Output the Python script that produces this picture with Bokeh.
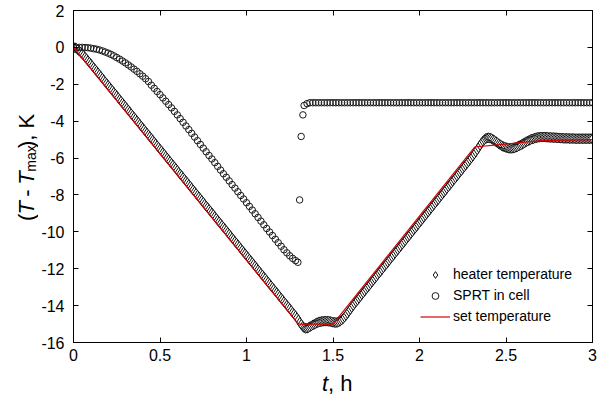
import math
import numpy as np
from bokeh.plotting import figure
from bokeh.layouts import column, row
from bokeh.models import (Range1d, LinearAxis, FixedTicker, NumeralTickFormatter,
                          Legend, LegendItem, CustomLabelingPolicy)
from bokeh.core.properties import value
from bokeh.embed import file_html
from bokeh.resources import INLINE

FONT = "Liberation Sans"

# ---------------- data ----------------
x_ticks = [0, 0.5, 1, 1.5, 2, 2.5, 3]
y_ticks = [-16, -14, -12, -10, -8, -6, -4, -2, 0, 2]

# heater temperature, one reading every 30 s, t = 0 .. 3 h
heater_temp = [
    0.00, -0.02, -0.05, -0.12, -0.20, -0.27, -0.35, -0.44, -0.53, -0.62,
    -0.72, -0.81, -0.90, -1.00, -1.10, -1.19, -1.29, -1.38, -1.48, -1.57,
    -1.67, -1.77, -1.87, -1.96, -2.06, -2.15, -2.25, -2.34, -2.44, -2.53,
    -2.63, -2.73, -2.83, -2.92, -3.02, -3.11, -3.21, -3.30, -3.40, -3.50,
    -3.60, -3.69, -3.79, -3.88, -3.98, -4.07, -4.17, -4.27, -4.37, -4.46,
    -4.56, -4.65, -4.75, -4.84, -4.94, -5.03, -5.13, -5.23, -5.33, -5.42,
    -5.52, -5.61, -5.71, -5.80, -5.90, -6.00, -6.10, -6.19, -6.29, -6.38,
    -6.48, -6.57, -6.67, -6.77, -6.87, -6.96, -7.06, -7.15, -7.25, -7.34,
    -7.44, -7.53, -7.63, -7.73, -7.83, -7.92, -8.02, -8.11, -8.21, -8.30,
    -8.40, -8.50, -8.60, -8.69, -8.79, -8.88, -8.98, -9.07, -9.17, -9.27,
    -9.37, -9.46, -9.56, -9.65, -9.75, -9.84, -9.94, -10.03, -10.13, -10.23,
    -10.33, -10.42, -10.52, -10.61, -10.71, -10.80, -10.90, -11.00, -11.10, -11.19,
    -11.29, -11.38, -11.48, -11.57, -11.67, -11.76, -11.86, -11.96, -12.06, -12.15,
    -12.25, -12.34, -12.44, -12.53, -12.63, -12.73, -12.83, -12.92, -13.02, -13.11,
    -13.21, -13.30, -13.40, -13.50, -13.60, -13.69, -13.79, -13.88, -13.98, -14.07,
    -14.17, -14.27, -14.37, -14.46, -14.56, -14.66, -14.78, -14.91, -15.02, -15.13,
    -15.20, -15.23, -15.22, -15.19, -15.15, -15.10, -15.05, -15.01, -14.97, -14.93,
    -14.90, -14.88, -14.86, -14.85, -14.84, -14.84, -14.84, -14.85, -14.86, -14.88,
    -14.90, -14.91, -14.92, -14.91, -14.88, -14.84, -14.78, -14.71, -14.62, -14.53,
    -14.42, -14.31, -14.20, -14.10, -13.99, -13.89, -13.79, -13.70, -13.60, -13.50,
    -13.40, -13.31, -13.21, -13.11, -13.01, -12.92, -12.82, -12.72, -12.62, -12.53,
    -12.43, -12.33, -12.23, -12.14, -12.04, -11.94, -11.84, -11.75, -11.65, -11.55,
    -11.45, -11.36, -11.26, -11.16, -11.06, -10.97, -10.87, -10.77, -10.67, -10.58,
    -10.48, -10.38, -10.28, -10.19, -10.09, -9.99, -9.89, -9.80, -9.70, -9.60,
    -9.50, -9.41, -9.31, -9.21, -9.11, -9.02, -8.92, -8.82, -8.72, -8.63,
    -8.53, -8.43, -8.33, -8.24, -8.14, -8.04, -7.94, -7.85, -7.75, -7.65,
    -7.55, -7.46, -7.36, -7.26, -7.16, -7.07, -6.97, -6.87, -6.77, -6.68,
    -6.58, -6.48, -6.38, -6.29, -6.19, -6.09, -5.99, -5.89, -5.78, -5.67,
    -5.55, -5.43, -5.30, -5.18, -5.08, -5.00, -4.94, -4.91, -4.90, -4.92,
    -4.95, -5.00, -5.05, -5.11, -5.17, -5.23, -5.28, -5.33, -5.37, -5.40,
    -5.43, -5.45, -5.47, -5.47, -5.47, -5.46, -5.44, -5.41, -5.38, -5.34,
    -5.30, -5.26, -5.21, -5.17, -5.12, -5.08, -5.04, -5.00, -4.97, -4.95,
    -4.92, -4.90, -4.88, -4.87, -4.86, -4.86, -4.86, -4.86, -4.87, -4.87,
    -4.88, -4.88, -4.89, -4.89, -4.90, -4.90, -4.91, -4.91, -4.92, -4.92,
    -4.93, -4.93, -4.93, -4.93, -4.94, -4.94, -4.94, -4.94, -4.95, -4.95,
    -4.95, -4.95, -4.95, -4.95, -4.95, -4.95, -4.95, -4.95, -4.95, -4.95,
    -4.95,
]
heater_t = np.arange(len(heater_temp)) / 120.0

# SPRT in cell: cooling part (one reading per minute, t = 0 .. 1.283 h)
sprt_cool = [
    0.00, 0.00, 0.00, 0.00, -0.01, -0.02, -0.04, -0.07, -0.10, -0.14,
    -0.19, -0.25, -0.31, -0.38, -0.46, -0.55, -0.64, -0.74, -0.84, -0.95,
    -1.06, -1.18, -1.30, -1.43, -1.56, -1.70, -1.85, -2.05, -2.22, -2.39,
    -2.56, -2.74, -2.92, -3.10, -3.28, -3.47, -3.66, -3.86, -4.06, -4.26,
    -4.46, -4.66, -4.86, -5.06, -5.26, -5.46, -5.66, -5.86, -6.05, -6.25,
    -6.45, -6.65, -6.85, -7.04, -7.24, -7.44, -7.63, -7.83, -8.03, -8.22,
    -8.42, -8.62, -8.82, -9.02, -9.22, -9.42, -9.62, -9.82, -10.01, -10.20,
    -10.40, -10.59, -10.78, -10.97, -11.14, -11.30, -11.44, -11.56,
]
sprt_cool_t = np.arange(len(sprt_cool)) / 60.0
# SPRT jump (freezing)
sprt_jump_t = [1.297, 1.307, 1.316, 1.326, 1.333]
sprt_jump = [-11.65, -8.27, -4.83, -3.66, -3.15]
# SPRT plateau (one reading per minute, t = 1.35 .. 3 h)
sprt_plateau = [
    -3.05, -3.00, -3.00, -3.00, -3.00, -3.00, -3.00, -3.00, -3.00, -3.00,
    -3.00, -3.00, -3.00, -3.00, -3.00, -3.00, -3.00, -3.00, -3.00, -3.00,
    -3.00, -3.00, -3.00, -3.00, -3.00, -3.00, -3.00, -3.00, -3.00, -3.00,
    -3.00, -3.00, -3.00, -3.00, -3.00, -3.00, -3.00, -3.00, -3.00, -3.00,
    -3.00, -3.00, -3.00, -3.00, -3.00, -3.00, -3.00, -3.00, -3.00, -3.00,
    -3.00, -3.00, -3.00, -3.00, -3.00, -3.00, -3.00, -3.00, -3.00, -3.00,
    -3.00, -3.00, -3.00, -3.00, -3.00, -3.00, -3.00, -3.00, -3.00, -3.00,
    -3.00, -3.00, -3.00, -3.00, -3.00, -3.00, -3.00, -3.00, -3.00, -3.00,
    -3.00, -3.00, -3.00, -3.00, -3.00, -3.00, -3.00, -3.00, -3.00, -3.00,
    -3.00, -3.00, -3.00, -3.00, -3.00, -3.00, -3.00, -3.00, -3.00, -3.00,
]
sprt_plateau_t = (81 + np.arange(len(sprt_plateau))) / 60.0

sprt_t = list(sprt_cool_t) + sprt_jump_t + list(sprt_plateau_t)
sprt_temp = sprt_cool + sprt_jump + sprt_plateau

# set temperature program
set_t = [0.0, 1.3, 1.5, 2.32, 2.7, 3.0]
set_temp = [0.0, -15.0, -15.0, -5.4, -5.05, -5.0]

# ---------------- layout geometry (page pixels) ----------------
W, H = 597, 399
LEFT_W = 38            # strip holding the y-axis title
BOTTOM_H = 30          # strip holding the x-axis title
FR_L, FR_T, FR_R, FR_B = 71, 10, 594, 342   # frame edges on the page
MAIN_W, MAIN_H = W - LEFT_W, H - BOTTOM_H

p = figure(width=MAIN_W, height=MAIN_H, output_backend="svg", toolbar_location=None,
           x_range=Range1d(0, 3), y_range=Range1d(-16, 2),
           min_border_left=FR_L - LEFT_W, min_border_right=W - FR_R,
           min_border_top=FR_T, min_border_bottom=MAIN_H - FR_B,
           x_axis_type=None, y_axis_type=None)
p.background_fill_color = "white"
p.border_fill_color = "white"
p.outline_line_color = "black"
p.outline_line_width = 1
p.xgrid.visible = False
p.ygrid.visible = False


def style_axis(ax, ticks, show_labels):
    ax.ticker = FixedTicker(ticks=ticks)
    ax.major_tick_in = 5
    ax.major_tick_out = 0
    ax.minor_tick_line_color = None
    ax.axis_line_color = "black"
    ax.major_tick_line_color = "black"
    ax.major_label_text_font = FONT
    ax.major_label_text_color = "black"
    if show_labels:
        ax.major_label_text_font_size = "16px"
    else:
        # mirror axis: ticks only, no labels at all
        ax.major_label_policy = CustomLabelingPolicy(code="return []")
        ax.major_label_text_font_size = "1px"
        ax.major_label_standoff = 0


xb = LinearAxis(formatter=NumeralTickFormatter(format="0.[0]"))
style_axis(xb, x_ticks, True)
xb.major_label_standoff = 6
p.add_layout(xb, "below")
xt = LinearAxis()
style_axis(xt, x_ticks, False)
p.add_layout(xt, "above")
yl = LinearAxis(formatter=NumeralTickFormatter(format="0"))
style_axis(yl, y_ticks, True)
yl.major_label_standoff = 9
p.add_layout(yl, "left")
yr = LinearAxis()
style_axis(yr, y_ticks, False)
p.add_layout(yr, "right")

# ---------------- data glyphs ----------------
r_heat = p.scatter(heater_t, heater_temp, marker="diamond", size=10,
                   line_color="#111111", line_width=1, fill_color="white")
r_sprt = p.scatter(sprt_t, sprt_temp, marker="circle", size=6.5,
                   line_color="#1a1a1a", line_width=1, fill_alpha=0)
r_set = p.line(set_t, set_temp, line_color="#d40000", line_width=1.2)

legend = Legend(items=[LegendItem(label="heater temperature", renderers=[r_heat]),
                       LegendItem(label="SPRT in cell", renderers=[r_sprt]),
                       LegendItem(label="set temperature", renderers=[r_set])],
                location=(347, 16), glyph_width=30, glyph_height=17,
                label_height=20, spacing=1, padding=0, margin=0,
                label_standoff=3, label_text_font=FONT,
                label_text_font_size="14px", label_text_color="black",
                border_line_color=None, background_fill_alpha=0)
p.add_layout(legend)


# ---------------- axis-title strips ----------------
def strip(w, h):
    f = figure(width=w, height=h, output_backend="svg", toolbar_location=None,
               x_range=Range1d(0, w), y_range=Range1d(0, h),
               min_border=0, x_axis_type=None, y_axis_type=None)
    f.outline_line_color = None
    f.xgrid.visible = False
    f.ygrid.visible = False
    f.background_fill_color = "white"
    f.border_fill_color = "white"
    return f


AX_FS = 22
SUB_FS = 14

# y-axis title "(T - Tmax), K", rotated (reads bottom to top)
fy = strip(LEFT_W, MAIN_H)
xc = 25.5
y0 = 234.0   # page y where the title starts (bottom)
pieces = [  # text, style, size, x shift, advance (px)
    ("(", "normal", AX_FS, 0, 0.333 * AX_FS),
    ("T", "italic", AX_FS, 0, 0.611 * AX_FS + 0.278 * AX_FS),
    ("-", "normal", AX_FS, 0, 0.333 * AX_FS + 0.278 * AX_FS),
    ("T", "italic", AX_FS, 0, 0.611 * AX_FS + 1.0),
    ("max", "normal", SUB_FS, 4.5, 1.889 * SUB_FS),
    ("), K", "normal", AX_FS, 0, 1.556 * AX_FS),
]
ycur = y0
for txt, style, fs, dx, adv in pieces:
    fy.text(x=[xc + dx], y=[MAIN_H - ycur], text=[txt], angle=math.pi / 2,
            text_font=value(FONT), text_font_style=style,
            text_font_size=f"{fs}px", text_align="left",
            text_baseline="middle", text_color="black")
    ycur -= adv

# x-axis title "t, h"
fx = strip(W, BOTTOM_H)
x0 = 321.5
fx.text(x=[x0], y=[H - 383], text=["t"], text_font=value(FONT),
        text_font_style="italic", text_font_size=f"{AX_FS}px",
        text_align="left", text_baseline="middle", text_color="black")
fx.text(x=[x0 + 0.278 * AX_FS], y=[H - 383], text=[", h"], text_font=value(FONT),
        text_font_size=f"{AX_FS}px", text_align="left",
        text_baseline="middle", text_color="black")

layout = column(row(fy, p, spacing=0), fx, spacing=0)
open("out.html", "w").write(file_html(layout, INLINE))
